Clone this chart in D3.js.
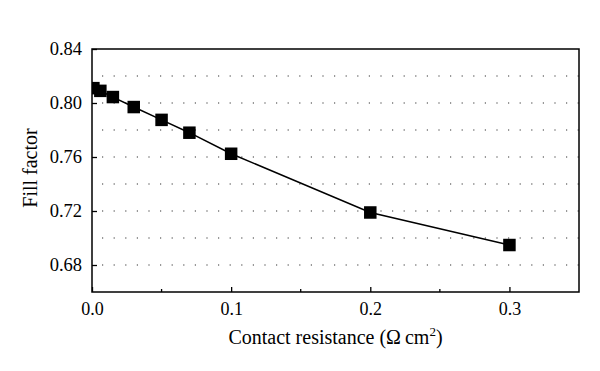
<!DOCTYPE html>
<html>
<head>
<meta charset="utf-8">
<script src="https://cdn.jsdelivr.net/npm/d3@7"></script>
<style>
  body { margin: 0; background: #fff; }
</style>
</head>
<body>
<svg id="chart" width="600" height="371"></svg>
<script>
// contact resistance (ohm cm^2) vs fill factor
const resistance = [0.001, 0.006, 0.015, 0.03, 0.05, 0.07, 0.1, 0.2, 0.3];
const fillFactor = [0.811, 0.809, 0.8044, 0.797, 0.7875, 0.778, 0.7624, 0.7189, 0.6948];
const xTicks = [0.0, 0.1, 0.2, 0.3];
const xMinorTicks = [0.05, 0.15, 0.25];
const yTicks = [0.68, 0.72, 0.76, 0.80, 0.84];
const yGrid = [0.68, 0.70, 0.72, 0.74, 0.76, 0.78, 0.80, 0.82];

const font = '"Liberation Serif", "DejaVu Serif", serif';
const margin = { left: 92, top: 49, right: 21, bottom: 79 };
const width = 600, height = 371;

const svg = d3.select('#chart');

const x = d3.scaleLinear().domain([0, 0.35]).range([margin.left, width - margin.right]);
const y = d3.scaleLinear().domain([0.66, 0.84]).range([height - margin.bottom, margin.top]);

const x0 = x.range()[0], x1 = x.range()[1];
const yb = y.range()[0], yt = y.range()[1];

// dotted grid
svg.append('g')
  .selectAll('line')
  .data(yGrid)
  .enter().append('line')
  .attr('x1', x0).attr('x2', x1)
  .attr('y1', d => y(d)).attr('y2', d => y(d))
  .attr('stroke', '#333')
  .attr('stroke-width', 1.2)
  .attr('stroke-dasharray', '1.2,10.4')
  .attr('stroke-dashoffset', -10);

// x axis, ticks pointing inward
const xAxis = svg.append('g')
  .attr('transform', `translate(0,${yb})`)
  .call(d3.axisBottom(x).tickValues(xTicks).tickSize(-5).tickPadding(10).tickFormat(d3.format('.1f')));
xAxis.select('.domain').remove();
xAxis.selectAll('line').attr('stroke-width', 1.3);
xAxis.attr('font-family', font).attr('font-size', 18);
xAxis.selectAll('text').attr('fill', '#000');

svg.append('g')
  .selectAll('line')
  .data(xMinorTicks)
  .enter().append('line')
  .attr('x1', d => x(d)).attr('x2', d => x(d))
  .attr('y1', yb).attr('y2', yb - 3)
  .attr('stroke', '#000').attr('stroke-width', 1.3);

// y axis
const yAxis = svg.append('g')
  .attr('transform', `translate(${x0},0)`)
  .call(d3.axisLeft(y).tickValues(yTicks).tickSize(-5).tickPadding(10).tickFormat(d3.format('.2f')));
yAxis.select('.domain').remove();
yAxis.selectAll('line').attr('stroke-width', 1.3);
yAxis.attr('font-family', font).attr('font-size', 18.5);
yAxis.selectAll('text').attr('fill', '#000');

// frame
svg.append('rect')
  .attr('x', x0).attr('y', yt)
  .attr('width', x1 - x0).attr('height', yb - yt)
  .attr('fill', 'none').attr('stroke', '#000').attr('stroke-width', 1.5);

// clip for markers
svg.append('clipPath').attr('id', 'plot')
  .append('rect').attr('x', x0).attr('y', yt).attr('width', x1 - x0).attr('height', yb - yt);

const pts = resistance.map((r, i) => ({ r, f: fillFactor[i] }));

const line = d3.line().x(d => x(d.r)).y(d => y(d.f));
svg.append('path')
  .datum(pts)
  .attr('d', line)
  .attr('fill', 'none')
  .attr('stroke', '#000')
  .attr('stroke-width', 1.5);

const s = 12.5;
svg.append('g')
  .attr('clip-path', 'url(#plot)')
  .selectAll('rect')
  .data(pts)
  .enter().append('rect')
  .attr('x', d => x(d.r) - s / 2)
  .attr('y', d => y(d.f) - s / 2)
  .attr('width', s).attr('height', s)
  .attr('fill', '#000');

// axis titles
const xt = svg.append('text')
  .attr('x', (x0 + x1) / 2)
  .attr('y', 344)
  .attr('text-anchor', 'middle')
  .attr('font-family', font)
  .attr('font-size', 20);
xt.append('tspan').text('Contact resistance (\u03A9\u2009cm');
xt.append('tspan').attr('dy', -8).attr('font-size', 13).text('2');
xt.append('tspan').attr('dy', 8).text(')');

svg.append('text')
  .attr('transform', `translate(37,168) rotate(-90)`)
  .attr('text-anchor', 'middle')
  .attr('font-family', font)
  .attr('font-size', 20)
  .text('Fill factor');
</script>
</body>
</html>
